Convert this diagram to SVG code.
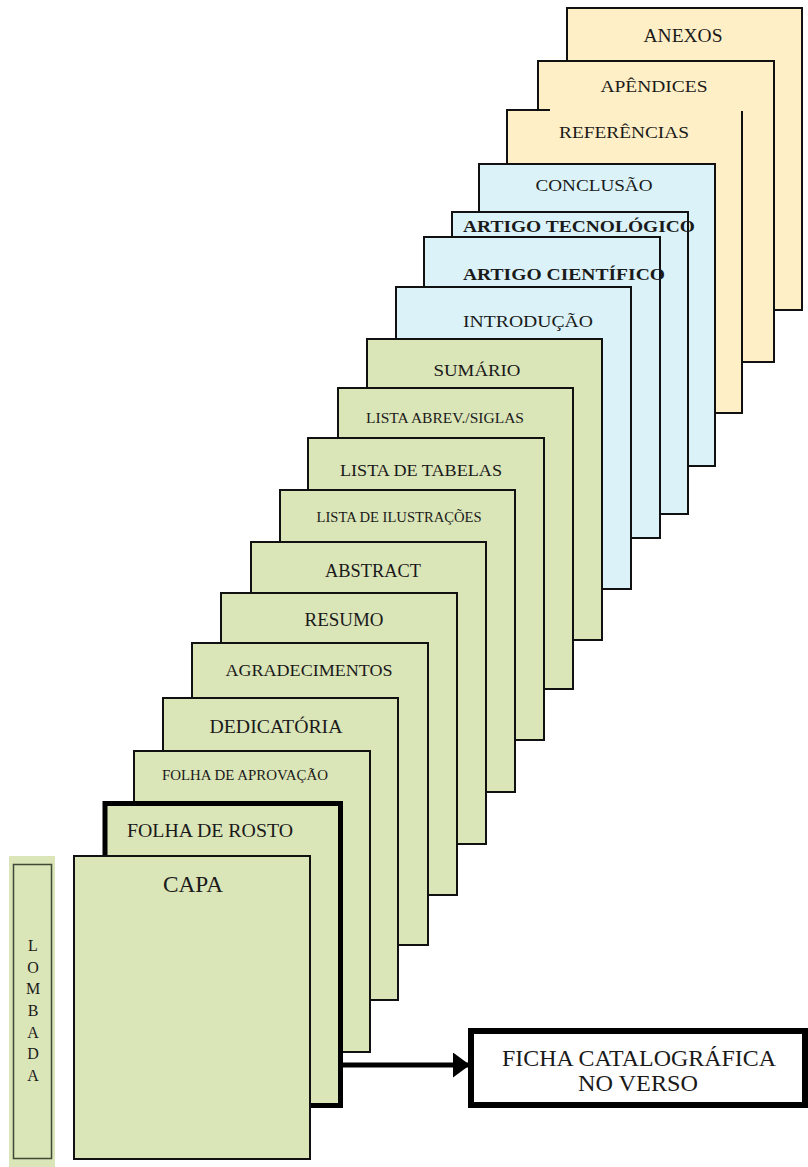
<svg xmlns="http://www.w3.org/2000/svg" width="808" height="1167" viewBox="0 0 808 1167">
<style>
.pg{stroke:#111;stroke-width:2}
.g{fill:#dae5b8}
.b{fill:#dbf3f8}
.y{fill:#ffefc6}
text{font-family:"Liberation Serif","Times New Roman",serif;fill:#1a1a1a}
.bd{font-weight:bold}
</style>
<defs>
<marker id="ah" markerWidth="4" markerHeight="5" refX="3.4" refY="2.5" orient="auto" markerUnits="strokeWidth">
<path d="M0,0 L3.4,2.5 L0,5 Z" fill="#000"/>
</marker>
</defs>
<rect width="808" height="1167" fill="#fff"/>

<g id="anexos"><rect class="pg y" x="567" y="8" width="235" height="302"/><text x="683" y="42" font-size="18" text-anchor="middle" textLength="79" lengthAdjust="spacingAndGlyphs">ANEXOS</text></g>
<g id="apendices"><rect class="pg y" x="538" y="61" width="236" height="301"/><text x="654" y="92" font-size="17" text-anchor="middle" textLength="107" lengthAdjust="spacingAndGlyphs">APÊNDICES</text></g>
<g id="referencias"><rect class="y" x="507" y="110" width="235" height="303"/><path d="M550,110 H507 V413 H742 V111" fill="none" stroke="#111" stroke-width="2"/><text x="624" y="138" font-size="17" text-anchor="middle" textLength="130" lengthAdjust="spacingAndGlyphs">REFERÊNCIAS</text></g>
<g id="conclusao"><rect class="pg b" x="479" y="164" width="236" height="302"/><text x="594" y="191" font-size="17" text-anchor="middle" textLength="117" lengthAdjust="spacingAndGlyphs">CONCLUSÃO</text></g>
<g id="artigo-tecnologico"><rect class="pg b" x="452" y="212" width="236" height="302"/><text class="bd" x="463" y="232" font-size="17" textLength="232" lengthAdjust="spacingAndGlyphs">ARTIGO TECNOLÓGICO</text></g>
<g id="artigo-cientifico"><rect class="pg b" x="424" y="237" width="236" height="301"/><text class="bd" x="463" y="280" font-size="17" textLength="202" lengthAdjust="spacingAndGlyphs">ARTIGO CIENTÍFICO</text></g>
<g id="introducao"><rect class="pg b" x="396" y="287" width="235" height="302"/><text x="463" y="327" font-size="17" textLength="130" lengthAdjust="spacingAndGlyphs">INTRODUÇÃO</text></g>
<g id="sumario"><rect class="pg g" x="367" y="339" width="235" height="301"/><text x="477" y="376" font-size="17" text-anchor="middle" textLength="87" lengthAdjust="spacingAndGlyphs">SUMÁRIO</text></g>
<g id="lista-abrev"><rect class="pg g" x="338" y="388" width="235" height="301"/><text x="445" y="423" font-size="15" text-anchor="middle" textLength="158" lengthAdjust="spacingAndGlyphs">LISTA ABREV./SIGLAS</text></g>
<g id="lista-tabelas"><rect class="pg g" x="308" y="438" width="236" height="302"/><text x="421" y="476" font-size="17" text-anchor="middle" textLength="162" lengthAdjust="spacingAndGlyphs">LISTA DE TABELAS</text></g>
<g id="lista-ilustracoes"><rect class="pg g" x="280" y="490" width="235" height="302"/><text x="399" y="522" font-size="15" text-anchor="middle" textLength="165" lengthAdjust="spacingAndGlyphs">LISTA DE ILUSTRAÇÕES</text></g>
<g id="abstract"><rect class="pg g" x="251" y="542" width="235" height="302"/><text x="373" y="577" font-size="18" text-anchor="middle" textLength="96" lengthAdjust="spacingAndGlyphs">ABSTRACT</text></g>
<g id="resumo"><rect class="pg g" x="221" y="593" width="236" height="302"/><text x="344" y="626" font-size="18" text-anchor="middle" textLength="79" lengthAdjust="spacingAndGlyphs">RESUMO</text></g>
<g id="agradecimentos"><rect class="pg g" x="192" y="643" width="236" height="302"/><text x="309" y="676" font-size="17" text-anchor="middle" textLength="167" lengthAdjust="spacingAndGlyphs">AGRADECIMENTOS</text></g>
<g id="dedicatoria"><rect class="pg g" x="163" y="698" width="235" height="302"/><text x="276" y="733" font-size="19" text-anchor="middle" textLength="133" lengthAdjust="spacingAndGlyphs">DEDICATÓRIA</text></g>
<g id="folha-aprovacao"><rect class="pg g" x="134" y="751" width="236" height="301"/><text x="245" y="780" font-size="15" text-anchor="middle" textLength="166" lengthAdjust="spacingAndGlyphs">FOLHA DE APROVAÇÃO</text></g>

<g id="connectors">
<line x1="343" y1="1065" x2="470" y2="1065" stroke="#000" stroke-width="5" marker-end="url(#ah)"/>
</g>

<g id="folha-rosto"><rect class="g" x="105" y="803.5" width="235.5" height="302" stroke="#000" stroke-width="5"/><text x="210" y="837" font-size="18" text-anchor="middle" textLength="166" lengthAdjust="spacingAndGlyphs">FOLHA DE ROSTO</text></g>
<g id="capa"><rect class="pg g" x="74" y="856" width="236" height="303"/><text x="193" y="892" font-size="23" text-anchor="middle" textLength="60" lengthAdjust="spacingAndGlyphs">CAPA</text></g>

<g id="lombada">
<rect x="9" y="856" width="46" height="311" fill="#dae5b8"/>
<rect x="13.5" y="864.5" width="38" height="294" fill="none" stroke="#3e4a35" stroke-width="1.5"/>
<g font-size="16" text-anchor="middle">
<text x="33" y="951">L</text>
<text x="33" y="973">O</text>
<text x="33" y="994">M</text>
<text x="33" y="1016">B</text>
<text x="33" y="1038">A</text>
<text x="33" y="1059">D</text>
<text x="33" y="1081">A</text>
</g>
</g>

<g id="ficha">
<rect x="471" y="1031" width="334" height="74" fill="#fff" stroke="#000" stroke-width="6"/>
<text x="639" y="1066" font-size="23" text-anchor="middle" textLength="274" lengthAdjust="spacingAndGlyphs">FICHA CATALOGRÁFICA</text>
<text x="638" y="1091" font-size="23" text-anchor="middle" textLength="120" lengthAdjust="spacingAndGlyphs">NO VERSO</text>
</g>
</svg>
